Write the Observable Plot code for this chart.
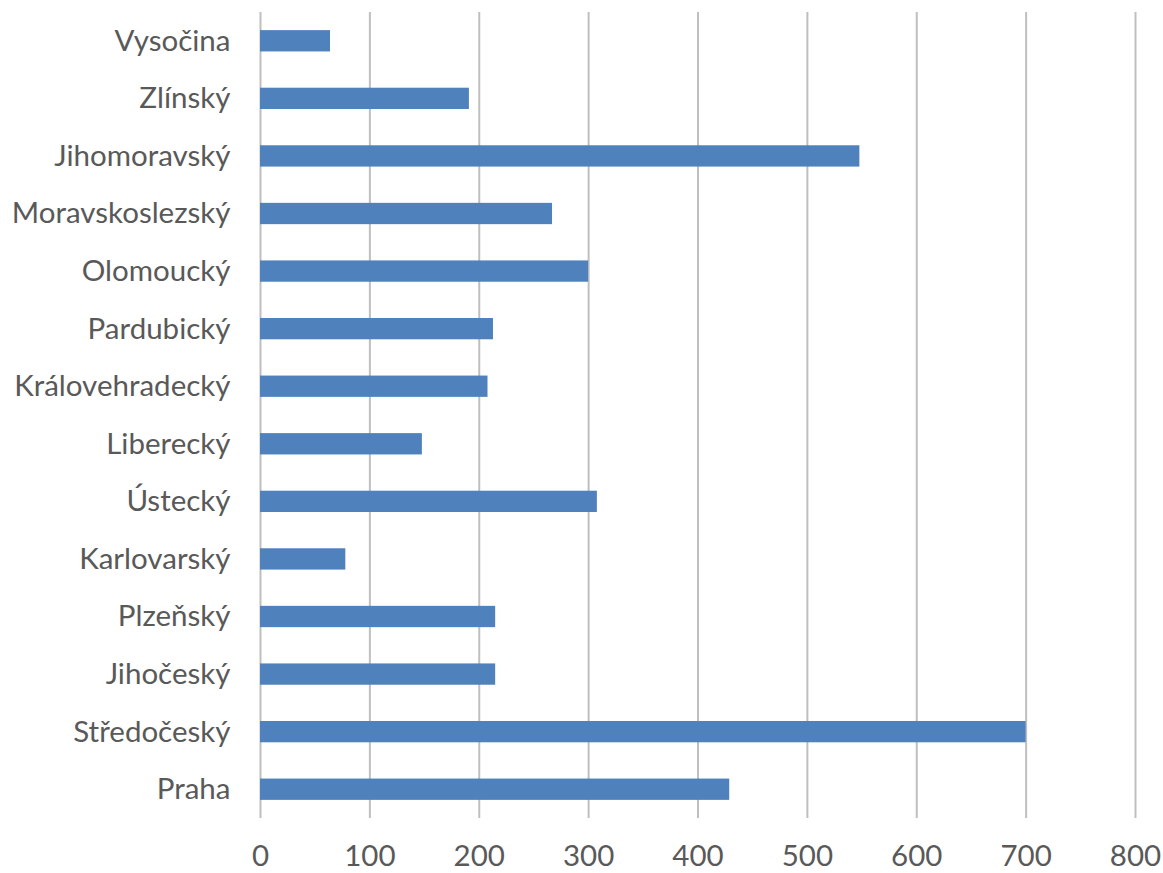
<!DOCTYPE html>
<html>
<head>
<meta charset="utf-8">
<script src="https://cdn.jsdelivr.net/npm/d3@7"></script>
<script src="https://cdn.jsdelivr.net/npm/@observablehq/plot@0.6"></script>
<style>
  html, body { margin: 0; padding: 0; background: #fff; }
  #chart { width: 1163px; height: 873px; }
</style>
</head>
<body>
<div id="chart"></div>
<script>
const regions = ["Vysočina", "Zlínský", "Jihomoravský", "Moravskoslezský", "Olomoucký", "Pardubický", "Královehradecký", "Liberecký", "Ústecký", "Karlovarský", "Plzeňský", "Jihočeský", "Středočeský", "Praha"];
const values = [64, 191, 548, 267, 300, 213, 208, 148, 308, 78, 215, 215, 700, 429];
const xTicks = [0, 100, 200, 300, 400, 500, 600, 700, 800];

const data = regions.map((r, i) => ({region: r, value: values[i]}));

const chart = Plot.plot({
  width: 1163,
  height: 873,
  marginLeft: 260,
  marginRight: 28,
  marginTop: 12,
  marginBottom: 55,
  style: {fontFamily: "Lato, sans-serif", fontSize: "29.5px", color: "#595959", background: "#fff"},
  x: {domain: [0, 800], ticks: xTicks, label: null},
  y: {domain: regions, paddingInner: 0.63, paddingOuter: 0.315, round: false, label: null},
  marks: [
    Plot.ruleX(xTicks, {stroke: "#bfbfbf", strokeWidth: 2}),
    Plot.barX(data, {x: "value", y: "region", fill: "#4f81bd"}),
    Plot.axisX({ticks: xTicks, tickSize: 0, tickPadding: 27, label: null, fill: "#595959"}),
    Plot.axisY({tickSize: 0, tickPadding: 30, label: null, fill: "#595959"})
  ]
});
document.getElementById("chart").appendChild(chart);
</script>
</body>
</html>
